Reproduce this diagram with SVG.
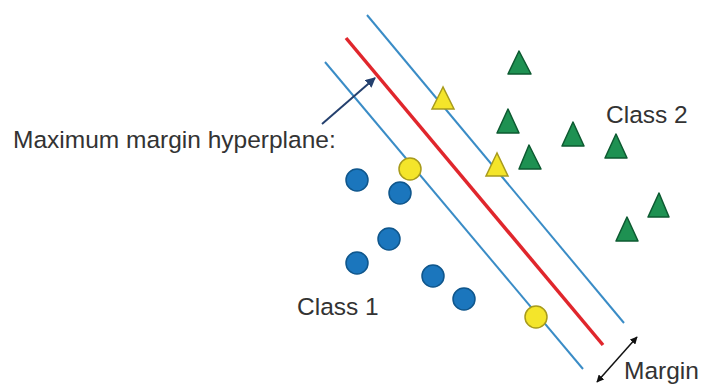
<svg xmlns="http://www.w3.org/2000/svg" width="701" height="384" viewBox="0 0 701 384">
<defs>
<style>
.lbl{font-family:"Liberation Sans",Arial,sans-serif;font-size:24.5px;fill:#333}
.c1{fill:#1b76bd;stroke:#0f568c;stroke-width:1.5}
.sv{fill:#f4e52a;stroke:#a89b1c;stroke-width:1.5}
.c2{fill:#1e9152;stroke:#0d5a31;stroke-width:1.5;stroke-linejoin:round}
.bl{stroke:#3a8cc6;stroke-width:2;fill:none}
</style>
<marker id="ah" viewBox="0 0 10 10" refX="9" refY="5" markerWidth="5" markerHeight="5" orient="auto-start-reverse">
<path d="M0,0 L10,5 L0,10 z" fill="#24406e"/>
</marker>
<marker id="am" viewBox="0 0 10 10" refX="9" refY="5" markerWidth="5" markerHeight="5" orient="auto-start-reverse">
<path d="M0,0 L10,5 L0,10 z" fill="#111"/>
</marker>
</defs>
<rect width="701" height="384" fill="#fff"/>
<g id="connectors">
<line class="bl" x1="325" y1="62" x2="583" y2="369"/>
<line x1="346" y1="38" x2="603" y2="345" stroke="#e0262c" stroke-width="3.5"/>
<line class="bl" x1="367" y1="15" x2="624" y2="323"/>
<line x1="322" y1="124" x2="375" y2="78" stroke="#24406e" stroke-width="2" marker-end="url(#ah)"/>
<line x1="597" y1="382" x2="637" y2="337" stroke="#111" stroke-width="1.5" marker-start="url(#am)" marker-end="url(#am)"/>
</g>
<g id="class1">
<circle class="c1" cx="357" cy="180" r="11"/>
<circle class="c1" cx="400" cy="193" r="11"/>
<circle class="c1" cx="389" cy="239" r="11"/>
<circle class="c1" cx="357" cy="263" r="11"/>
<circle class="c1" cx="433" cy="276" r="11"/>
<circle class="c1" cx="464" cy="299" r="11"/>
</g>
<g id="support-circles">
<circle class="sv" cx="410" cy="169" r="11"/>
<circle class="sv" cx="536" cy="317" r="11"/>
</g>
<g id="support-triangles">
<polygon class="sv" points="443,87 432,109 454,109"/>
<polygon class="sv" points="497,153 486,176 508,176"/>
</g>
<g id="class2">
<polygon class="c2" points="519,51 508,74 531,74"/>
<polygon class="c2" points="508,109 497,133 519,133"/>
<polygon class="c2" points="573,122 562,146 584,146"/>
<polygon class="c2" points="529,145 519,169 541,169"/>
<polygon class="c2" points="616,134 605,158 627,158"/>
<polygon class="c2" points="659,193 648,217 669,217"/>
<polygon class="c2" points="627,217 616,241 638,241"/>
</g>
<g id="labels">
<text class="lbl" x="13" y="148">Maximum margin hyperplane:</text>
<text class="lbl" x="297" y="315">Class 1</text>
<text class="lbl" x="606" y="123">Class 2</text>
<text class="lbl" x="624" y="379">Margin</text>
</g>
</svg>
